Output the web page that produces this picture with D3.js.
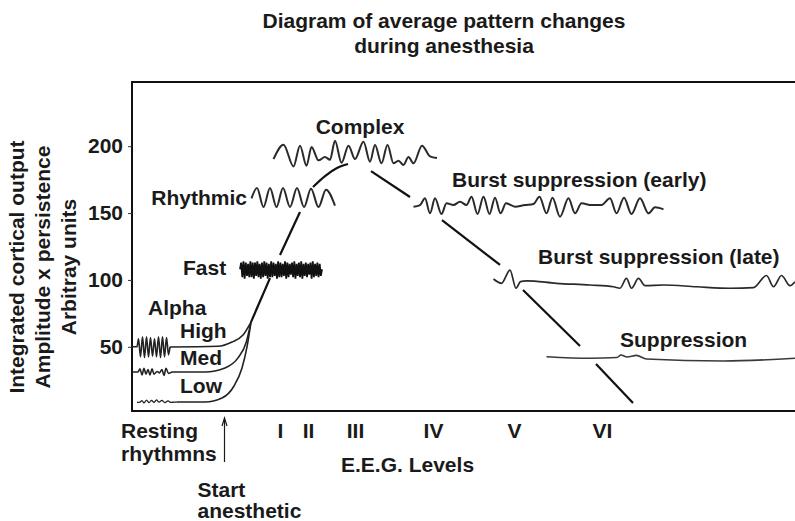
<!DOCTYPE html>
<html>
<head>
<meta charset="utf-8">
<script src="https://cdn.jsdelivr.net/npm/d3@7"></script>
<style>
  html, body { margin: 0; padding: 0; background: #fff; }
  svg { display: block; font-family: "Liberation Sans", Arial, Helvetica, sans-serif; font-weight: bold; }
</style>
</head>
<body>
<svg id="chart" width="795" height="521"></svg>
<script>
// Depth of anesthesia runs left to right (arbitrary depth units);
// integrated cortical output is in arbitrary units.
const yTicks = [50, 100, 150, 200];
const levelNames = ["I", "II", "III", "IV", "V", "VI"];
const levelDepths = [29.6, 35.2, 44.6, 60.2, 76.4, 94.0];
const startDepth = 18.5;

// Resting alpha rhythms: [depth, output]
const alphaHigh = [[0,50],[1.0,50],[1.3,56],[1.7,42.5],[2.1,57.5],[2.5,42],[2.9,57.5],[3.3,42.5],[3.7,57],[4.1,43],[4.5,56],[4.9,42.5],[5.3,57.5],[5.7,42],[6.1,57.5],[6.5,42.5],[6.9,57],[7.3,44],[7.6,49.9]];
const alphaMed = [[0,31.2],[1.2,31.2],[1.6,33.5],[2.0,29],[2.4,34],[2.8,29.5],[3.2,33],[3.6,29],[4.0,33.5],[4.4,29.5],[5.0,31.5],[5.5,30.5],[6.0,33],[6.4,28.5],[6.8,34],[7.3,30],[8.0,31.2]];
const alphaLow = [[1.0,8.5],[1.6,8.7],[2.0,9.8],[2.4,8.0],[2.9,10.2],[3.4,8.2],[3.9,10.0],[4.4,8.4],[4.9,10.3],[5.4,8.6],[6.0,9.9],[6.6,8.2],[7.2,9.6],[7.8,8.4],[8.5,8.7],[9.0,8.7]];

// Rise of output after the anesthetic is started
const riseHigh = [[7.6,49.9],[17.2,50.4],[20,53.6],[22.2,58.8],[23.8,68.5]];
const riseMed = [[8.0,31.2],[14.6,31.2],[18.6,34.2],[21.2,41.7],[22.8,52.9],[23.8,68.5]];
const riseLow = [[9.0,8.7],[14.6,8.7],[18,11.7],[20.4,20.7],[22,34.2],[23,49.9],[23.8,68.5]];

// Fast activity: successive extremes across its depth span
const fastSpan = [21.6, 38];
const fastVals = [108,113,102,114,101,113,103,112,102,114,102,113,101,113,103,114,102,112,101,113,102,114,103,113,101,112,102,114,102,113,103,112,101,114,102,113,102,112,103,114,101,113,102,112,104,113,102,114,101,112,103,113,102,114,101,112,103,113,102,112,104,113,101,114,102,112,103,113,102,112,103,108];

const rhythmic = [[23.9,161],[25.0,168.7],[26.3,154.5],[27.6,168.7],[28.9,154.5],[30.2,168.7],[31.6,154.5],[33.0,168.7],[34.4,154.5],[35.8,168.2],[37.3,154.5],[38.8,167.5],[40.6,155.5]];

const complex = [[28.3,190.4],[30.3,201.1],[32.3,184.9],[33.6,200.4],[34.9,185.4],[35.9,199.4],[37.3,189.4],[38.6,191.9],[39.6,189.9],[40.6,204.1],[41.9,187.6],[43.3,200.4],[44.6,190.4],[46.3,203.3],[47.6,188.4],[48.6,200.9],[49.9,187.2],[51.1,200.9],[52.3,187.2],[53.3,189.2],[54.3,186],[55.3,191.9],[56.3,187.2],[58.0,200.4],[59.6,192.4],[61.0,191.2]];

const burstEarly = [[56.3,154.8],[57.6,156],[58.6,161],[59.6,149.8],[60.6,161],[61.9,149.3],[62.9,157.3],[64.3,156],[65.6,158.5],[66.9,156],[67.9,162.2],[69.1,149.3],[70.3,162.2],[71.5,149.3],[72.6,161.5],[73.7,149.8],[74.8,157.3],[76.6,154.8],[78.6,156],[80.3,156.8],[81.5,162.2],[82.9,149.8],[84.1,161.5],[85.6,147.3],[87.3,161],[88.6,149.8],[89.9,157.3],[91.9,156],[93.9,156],[95.6,161],[96.9,149.8],[98.4,161.5],[99.9,149.3],[101.6,161],[103.3,149.8],[104.6,154.3],[106.3,152.8]];

const burstLate = [[72.3,100.7],[73.9,97.5],[75.6,107.4],[76.8,93.8],[77.7,98.7],[78.9,99.3],[84.9,97.5],[91.6,96.2],[96.3,94.9],[97.6,93.8],[98.9,101.2],[99.9,93.8],[101.3,101.2],[102.6,95.7],[106.3,96.2],[112.9,94.9],[119.6,93.8],[124.3,94.3],[126.9,103.3],[128.3,94.9],[129.9,103.3],[131.6,95.7],[132.6,98.7]];

const suppression = [[82.9,42.6],[91.6,41.4],[97.0,42.0],[97.8,43.9],[99.0,42.4],[100.9,43.6],[102.9,40.9],[118.3,39.4],[132.6,41.4]];

// Average output trajectory, broken where the pattern traces sit on it
const trajectory = [
  [[23.8,68.5],[27.6,101.4]],
  [[29.6,118.6],[33.6,150.8]],
  [[36.2,169.5],[38.6,177.7],[41.0,183.7],[43.2,186.7]],
  [[47.8,181.4],[55.6,162.0]],
  [[62.0,144.8],[73.6,111.2]],
  [[78.2,92.5],[89.6,50.6]],
  [[92.8,37.1],[100.2,8.0]]
];

const svg = d3.select("#chart");
const ink = "#1a1a1a";
const fs = 21;

const x = d3.scaleLinear().domain([0, 132.6]).range([132, 795]);
const y = d3.scaleLinear().domain([2, 248]).range([411, 82]);

// Title
svg.append("text").attr("x", 444).attr("y", 28).attr("text-anchor", "middle")
  .attr("font-size", fs).attr("fill", ink).text("Diagram of average pattern changes");
svg.append("text").attr("x", 444).attr("y", 53).attr("text-anchor", "middle")
  .attr("font-size", fs).attr("fill", ink).text("during anesthesia");

// Plot frame (open on the right)
svg.append("path")
  .attr("d", `M${x(132.6) + 10},${y(248)}H${x(0)}V${y(2)}H${x(132.6) + 10}`)
  .attr("fill", "none").attr("stroke", "#111").attr("stroke-width", 2);

// Y axis
const gy = svg.append("g").attr("transform", `translate(${x(0)},0)`)
  .call(d3.axisLeft(y).tickValues(yTicks).tickSize(4).tickPadding(5));
gy.select(".domain").remove();
gy.selectAll(".tick line").attr("stroke", "#333");
gy.selectAll(".tick text").attr("font-size", fs).attr("font-family", null)
  .attr("font-weight", "bold").attr("fill", ink);

// Y axis title (three lines)
const yTitle = ["Integrated cortical output", "Amplitude x persistence", "Arbitray units"];
svg.append("g").selectAll("text").data(yTitle).join("text")
  .attr("transform", (d, i) => `translate(${24 + i * 26},267) rotate(-90)`)
  .attr("text-anchor", "middle").attr("font-size", fs).attr("fill", ink)
  .text(d => d);

// EEG level labels on the depth axis
const gx = svg.append("g").attr("transform", `translate(0,${y(2)})`)
  .call(d3.axisBottom(x).tickValues(levelDepths).tickFormat((d, i) => levelNames[i])
    .tickSize(0).tickPadding(12));
gx.select(".domain").remove();
gx.selectAll(".tick text").attr("font-size", fs).attr("font-family", null)
  .attr("font-weight", "bold").attr("fill", ink);

const base = y(2);
svg.append("text").attr("x", x(0) - 11).attr("y", base + 27).attr("font-size", fs).attr("fill", ink).text("Resting");
svg.append("text").attr("x", x(0) - 11).attr("y", base + 50).attr("font-size", fs).attr("fill", ink).text("rhythmns");
svg.append("text").attr("x", 341).attr("y", base + 61).attr("font-size", fs).attr("fill", ink).text("E.E.G. Levels");
svg.append("text").attr("x", x(startDepth) - 27).attr("y", base + 86).attr("font-size", fs).attr("fill", ink).text("Start");
svg.append("text").attr("x", x(startDepth) - 27).attr("y", base + 107).attr("font-size", fs).attr("fill", ink).text("anesthetic");

// Start-of-anesthetic arrow
const ax = x(startDepth);
svg.append("path").attr("d", `M${ax},${base + 51}V${base + 8}`)
  .attr("stroke", ink).attr("stroke-width", 1.2).attr("fill", "none");
svg.append("path").attr("d", `M${ax - 2.5},${base + 15}L${ax},${base + 7}L${ax + 2.5},${base + 15}`)
  .attr("stroke", ink).attr("stroke-width", 1.2).attr("fill", "none");

// Line generators: traces use flat tangents at each extreme for rounded crests
const wave = d3.line().x(d => x(d[0])).y(d => y(d[1])).curve(d3.curveMonotoneX);
const smooth = d3.line().x(d => x(d[0])).y(d => y(d[1])).curve(d3.curveMonotoneX);

// Trajectory
svg.append("g").selectAll("path").data(trajectory).join("path")
  .attr("d", d => smooth(d)).attr("fill", "none").attr("stroke", "#111").attr("stroke-width", 2.2);

// Rise curves
svg.append("g").selectAll("path").data([riseHigh, riseMed, riseLow]).join("path")
  .attr("d", d => smooth(d)).attr("fill", "none").attr("stroke", "#222").attr("stroke-width", 1.6);

// Alpha rhythms
svg.append("g").selectAll("path").data([alphaHigh, alphaMed, alphaLow]).join("path")
  .attr("d", d => wave(d)).attr("fill", "none").attr("stroke", "#222")
  .attr("stroke-width", (d, i) => i === 2 ? 1.3 : 1.6);

// Fast activity
const fastX = d3.scaleLinear().domain([0, fastVals.length - 1]).range(fastSpan);
svg.append("path")
  .attr("d", d3.line().x((d, i) => x(fastX(i))).y(d => y(d))(fastVals))
  .attr("fill", "none").attr("stroke", "#111").attr("stroke-width", 1.8);

// Pattern traces
svg.append("g").selectAll("path").data([rhythmic, complex, burstEarly]).join("path")
  .attr("d", d => wave(d)).attr("fill", "none").attr("stroke", "#2a2a2a").attr("stroke-width", 2);
svg.append("path").attr("d", wave(burstLate)).attr("fill", "none")
  .attr("stroke", "#2a2a2a").attr("stroke-width", 1.7);
svg.append("path").attr("d", smooth(suppression)).attr("fill", "none")
  .attr("stroke", "#3a3a3a").attr("stroke-width", 1.6);

// Pattern labels
const labels = [
  { t: "Alpha", d: 3.2, v: 73.8, a: "start" },
  { t: "High", d: 9.6, v: 56.6, a: "start" },
  { t: "Med", d: 9.6, v: 36.4, a: "start" },
  { t: "Low", d: 9.6, v: 15.5, a: "start" },
  { t: "Fast", d: 10.2, v: 103.7, a: "start" },
  { t: "Rhythmic", d: 23.0, v: 156, a: "end" },
  { t: "Complex", d: 45.6, v: 209.1, a: "middle" },
  { t: "Burst suppression (early)", d: 64.0, v: 169.5, a: "start" },
  { t: "Burst suppression (late)", d: 81.2, v: 111.9, a: "start" },
  { t: "Suppression", d: 97.6, v: 49.9, a: "start" }
];
svg.append("g").selectAll("text").data(labels).join("text")
  .attr("x", d => x(d.d)).attr("y", d => y(d.v)).attr("text-anchor", d => d.a)
  .attr("font-size", fs).attr("fill", ink).text(d => d.t);
</script>
</body>
</html>
